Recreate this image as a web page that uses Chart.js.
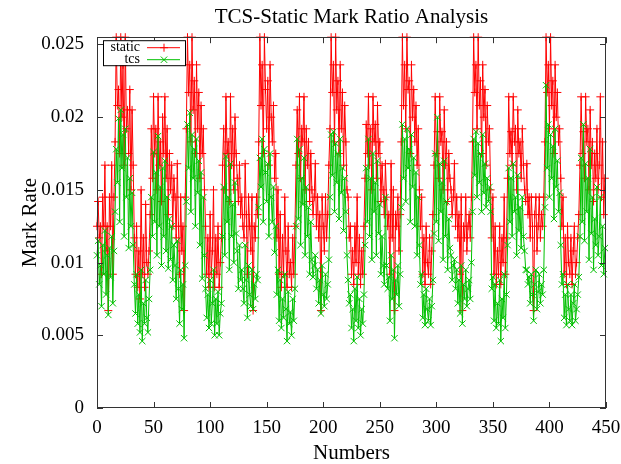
<!DOCTYPE html>
<html>
<head>
<meta charset="utf-8">
<title>TCS-Static Mark Ratio Analysis</title>
<script src="https://cdn.jsdelivr.net/npm/chart.js@4.4.0/dist/chart.umd.min.js"></script>
<style>
  html, body { margin: 0; padding: 0; background: #fff; }
</style>
</head>
<body>
<canvas id="markChart" width="621" height="464"></canvas>
<script>
// mark rate per sample (high / trough / medium / low-med)
const staticRate = [
  0.0125, 0.0142, 0.0117, 0.0125, 0.0092, 0.0145, 0.0125, 0.0167, 0.0108, 0.0125, 0.0067, 0.0145, 0.0125, 0.0167, 0.0092, 0.0145,
  0.0183, 0.0255, 0.0208, 0.0219, 0.0175, 0.0255, 0.0200, 0.0236, 0.0167, 0.0255, 0.0192, 0.0205, 0.0175, 0.0219, 0.0150, 0.0205, 0.0167,
  0.0117, 0.0092, 0.0125, 0.0083, 0.0108, 0.0075, 0.0150, 0.0092, 0.0117, 0.0083, 0.0140, 0.0100, 0.0092, 0.0108,
  0.0133, 0.0192, 0.0158, 0.0214, 0.0175, 0.0192, 0.0150, 0.0214, 0.0167, 0.0183, 0.0142, 0.0200, 0.0175, 0.0214, 0.0158, 0.0192, 0.0133, 0.0175, 0.0150, 0.0167, 0.0125, 0.0158,
  0.0145, 0.0117, 0.0168, 0.0125, 0.0092, 0.0145, 0.0108, 0.0125, 0.0067, 0.0145,
  0.0192, 0.0255, 0.0217, 0.0236, 0.0183, 0.0255, 0.0205, 0.0225, 0.0175, 0.0236, 0.0192, 0.0217, 0.0158, 0.0208, 0.0175, 0.0192, 0.0150,
  0.0125, 0.0092, 0.0117, 0.0083, 0.0133, 0.0092, 0.0108, 0.0150, 0.0083, 0.0117, 0.0092, 0.0125, 0.0083, 0.0100, 0.0117,
  0.0167, 0.0192, 0.0150, 0.0214, 0.0175, 0.0183, 0.0142, 0.0214, 0.0167, 0.0192, 0.0150, 0.0200, 0.0175, 0.0158, 0.0142, 0.0167, 0.0133,
  0.0145, 0.0125, 0.0117, 0.0168, 0.0133, 0.0092, 0.0145, 0.0125, 0.0108, 0.0145, 0.0067, 0.0125, 0.0117, 0.0145, 0.0133,
  0.0183, 0.0255, 0.0208, 0.0236, 0.0175, 0.0255, 0.0219, 0.0192, 0.0225, 0.0167, 0.0236, 0.0200, 0.0183, 0.0208, 0.0158, 0.0175,
  0.0117, 0.0150, 0.0092, 0.0133, 0.0083, 0.0117, 0.0092, 0.0145, 0.0108, 0.0083, 0.0125, 0.0092, 0.0100, 0.0083, 0.0117, 0.0092, 0.0125,
  0.0167, 0.0205, 0.0175, 0.0214, 0.0158, 0.0192, 0.0183, 0.0214, 0.0150, 0.0192, 0.0167, 0.0183, 0.0142, 0.0175, 0.0150, 0.0133,
  0.0145, 0.0168, 0.0125, 0.0145, 0.0117, 0.0133, 0.0067, 0.0145, 0.0125, 0.0108, 0.0145, 0.0117, 0.0133, 0.0167,
  0.0192, 0.0255, 0.0217, 0.0236, 0.0183, 0.0255, 0.0205, 0.0225, 0.0175, 0.0236, 0.0192, 0.0217, 0.0167, 0.0208, 0.0183, 0.0150,
  0.0145, 0.0117, 0.0125, 0.0092, 0.0108, 0.0085, 0.0125, 0.0100, 0.0145, 0.0092, 0.0117, 0.0085, 0.0108, 0.0092, 0.0125,
  0.0158, 0.0195, 0.0175, 0.0214, 0.0167, 0.0192, 0.0150, 0.0214, 0.0183, 0.0195, 0.0158, 0.0208, 0.0175, 0.0183, 0.0142, 0.0167, 0.0150, 0.0133,
  0.0168, 0.0145, 0.0125, 0.0133, 0.0092, 0.0168, 0.0117, 0.0150, 0.0067, 0.0133, 0.0125, 0.0145, 0.0108, 0.0133,
  0.0183, 0.0255, 0.0208, 0.0236, 0.0192, 0.0255, 0.0219, 0.0225, 0.0175, 0.0236, 0.0200, 0.0219, 0.0183, 0.0208, 0.0167, 0.0192, 0.0150,
  0.0125, 0.0145, 0.0092, 0.0117, 0.0085, 0.0125, 0.0100, 0.0092, 0.0117, 0.0085, 0.0108, 0.0133,
  0.0167, 0.0214, 0.0175, 0.0190, 0.0158, 0.0214, 0.0183, 0.0190, 0.0150, 0.0205, 0.0167, 0.0183, 0.0142, 0.0175, 0.0158, 0.0150, 0.0133,
  0.0145, 0.0168, 0.0125, 0.0145, 0.0117, 0.0133, 0.0092, 0.0145, 0.0067, 0.0125, 0.0117, 0.0145, 0.0108, 0.0125, 0.0133, 0.0117, 0.0145,
  0.0183, 0.0255, 0.0217, 0.0236, 0.0192, 0.0255, 0.0208, 0.0225, 0.0175, 0.0236, 0.0200, 0.0219, 0.0167, 0.0208, 0.0183, 0.0192, 0.0150,
  0.0117, 0.0145, 0.0092, 0.0125, 0.0085, 0.0108, 0.0092, 0.0125, 0.0085, 0.0117, 0.0100, 0.0145, 0.0092, 0.0117,
  0.0158, 0.0214, 0.0175, 0.0190, 0.0167, 0.0214, 0.0183, 0.0192, 0.0150, 0.0205, 0.0175, 0.0183, 0.0158, 0.0192, 0.0167, 0.0150, 0.0142,
  0.0168, 0.0133, 0.0145, 0.0117, 0.0145, 0.0125, 0.0067, 0.0133, 0.0145, 0.0108, 0.0125, 0.0145, 0.0117, 0.0133, 0.0125, 0.0145,
  0.0183, 0.0255, 0.0217, 0.0236, 0.0192, 0.0255, 0.0208, 0.0225, 0.0175, 0.0236, 0.0200, 0.0217, 0.0183, 0.0192, 0.0158,
  0.0125, 0.0145, 0.0092, 0.0117, 0.0085, 0.0125, 0.0100, 0.0092, 0.0117, 0.0085, 0.0108, 0.0125, 0.0092, 0.0100, 0.0117, 0.0133,
  0.0167, 0.0214, 0.0175, 0.0190, 0.0158, 0.0214, 0.0183, 0.0192, 0.0150, 0.0205, 0.0167, 0.0183, 0.0142, 0.0175, 0.0158, 0.0192, 0.0150,
  0.0167, 0.0214, 0.0145, 0.0183, 0.0133, 0.0158
];

const tcsRate = [
  0.0105, 0.0115, 0.0085, 0.0098, 0.0070, 0.0112, 0.0092, 0.0122, 0.0078, 0.0105, 0.0064, 0.0110, 0.0090, 0.0118, 0.0072, 0.0108,
  0.0135, 0.0178, 0.0155, 0.0199, 0.0128, 0.0205, 0.0165, 0.0188, 0.0118, 0.0192, 0.0145, 0.0172, 0.0110, 0.0158, 0.0125, 0.0148, 0.0112,
  0.0085, 0.0065, 0.0092, 0.0058, 0.0078, 0.0052, 0.0095, 0.0046, 0.0072, 0.0058, 0.0088, 0.0062, 0.0052, 0.0075,
  0.0095, 0.0145, 0.0118, 0.0176, 0.0128, 0.0162, 0.0105, 0.0187, 0.0125, 0.0152, 0.0098, 0.0165, 0.0118, 0.0170, 0.0108, 0.0145, 0.0096, 0.0130, 0.0102, 0.0125, 0.0088, 0.0112,
  0.0098, 0.0075, 0.0115, 0.0082, 0.0058, 0.0095, 0.0068, 0.0085, 0.0048, 0.0098,
  0.0142, 0.0195, 0.0165, 0.0203, 0.0135, 0.0188, 0.0158, 0.0178, 0.0125, 0.0185, 0.0148, 0.0170, 0.0112, 0.0162, 0.0089, 0.0145, 0.0105,
  0.0082, 0.0062, 0.0078, 0.0055, 0.0088, 0.0058, 0.0072, 0.0095, 0.0050, 0.0075, 0.0058, 0.0080, 0.0050, 0.0065, 0.0072,
  0.0118, 0.0152, 0.0105, 0.0173, 0.0128, 0.0145, 0.0095, 0.0168, 0.0118, 0.0140, 0.0100, 0.0155, 0.0120, 0.0108, 0.0082, 0.0112, 0.0088,
  0.0095, 0.0082, 0.0072, 0.0112, 0.0088, 0.0062, 0.0098, 0.0078, 0.0070, 0.0095, 0.0068, 0.0085, 0.0075, 0.0092, 0.0088,
  0.0138, 0.0172, 0.0152, 0.0185, 0.0128, 0.0178, 0.0162, 0.0142, 0.0168, 0.0118, 0.0175, 0.0145, 0.0128, 0.0152, 0.0107, 0.0125,
  0.0078, 0.0095, 0.0060, 0.0088, 0.0055, 0.0075, 0.0062, 0.0092, 0.0068, 0.0046, 0.0080, 0.0058, 0.0066, 0.0050, 0.0075, 0.0060, 0.0082,
  0.0125, 0.0185, 0.0130, 0.0178, 0.0112, 0.0158, 0.0140, 0.0172, 0.0105, 0.0152, 0.0118, 0.0138, 0.0092, 0.0128, 0.0102, 0.0090,
  0.0098, 0.0105, 0.0082, 0.0095, 0.0072, 0.0088, 0.0065, 0.0098, 0.0078, 0.0070, 0.0092, 0.0075, 0.0085, 0.0102,
  0.0145, 0.0188, 0.0160, 0.0190, 0.0135, 0.0182, 0.0155, 0.0175, 0.0130, 0.0185, 0.0148, 0.0165, 0.0122, 0.0158, 0.0135, 0.0105,
  0.0088, 0.0072, 0.0078, 0.0055, 0.0068, 0.0046, 0.0082, 0.0060, 0.0090, 0.0055, 0.0075, 0.0050, 0.0068, 0.0058, 0.0078,
  0.0112, 0.0165, 0.0128, 0.0185, 0.0118, 0.0158, 0.0102, 0.0175, 0.0135, 0.0155, 0.0105, 0.0170, 0.0120, 0.0140, 0.0092, 0.0118, 0.0098, 0.0085,
  0.0145, 0.0098, 0.0082, 0.0090, 0.0060, 0.0105, 0.0075, 0.0095, 0.0048, 0.0088, 0.0078, 0.0098, 0.0070, 0.0092,
  0.0138, 0.0195, 0.0158, 0.0185, 0.0142, 0.0192, 0.0165, 0.0178, 0.0128, 0.0188, 0.0152, 0.0172, 0.0125, 0.0162, 0.0105, 0.0145, 0.0112,
  0.0085, 0.0092, 0.0062, 0.0078, 0.0057, 0.0082, 0.0068, 0.0060, 0.0075, 0.0057, 0.0070, 0.0088,
  0.0120, 0.0175, 0.0128, 0.0200, 0.0115, 0.0168, 0.0135, 0.0155, 0.0102, 0.0170, 0.0118, 0.0142, 0.0095, 0.0130, 0.0110, 0.0105, 0.0088,
  0.0098, 0.0102, 0.0082, 0.0095, 0.0072, 0.0088, 0.0065, 0.0098, 0.0058, 0.0085, 0.0075, 0.0095, 0.0070, 0.0082, 0.0088, 0.0075, 0.0100,
  0.0135, 0.0185, 0.0160, 0.0190, 0.0145, 0.0182, 0.0155, 0.0175, 0.0135, 0.0188, 0.0148, 0.0168, 0.0138, 0.0158, 0.0142, 0.0152, 0.0135,
  0.0082, 0.0090, 0.0060, 0.0085, 0.0055, 0.0072, 0.0058, 0.0088, 0.0046, 0.0075, 0.0062, 0.0092, 0.0055, 0.0078,
  0.0112, 0.0165, 0.0128, 0.0158, 0.0118, 0.0168, 0.0135, 0.0145, 0.0105, 0.0160, 0.0122, 0.0138, 0.0110, 0.0145, 0.0118, 0.0108, 0.0095,
  0.0095, 0.0085, 0.0090, 0.0072, 0.0092, 0.0078, 0.0060, 0.0085, 0.0095, 0.0068, 0.0080, 0.0092, 0.0072, 0.0085, 0.0078, 0.0095,
  0.0138, 0.0222, 0.0165, 0.0195, 0.0145, 0.0188, 0.0158, 0.0180, 0.0130, 0.0192, 0.0152, 0.0170, 0.0135, 0.0148, 0.0112,
  0.0085, 0.0092, 0.0062, 0.0078, 0.0057, 0.0085, 0.0068, 0.0060, 0.0078, 0.0057, 0.0072, 0.0085, 0.0060, 0.0068, 0.0078, 0.0090,
  0.0118, 0.0172, 0.0128, 0.0195, 0.0115, 0.0168, 0.0135, 0.0158, 0.0102, 0.0178, 0.0120, 0.0145, 0.0095, 0.0130, 0.0112, 0.0152, 0.0105,
  0.0118, 0.0145, 0.0098, 0.0125, 0.0092, 0.0110
];

const xTicks = [0, 50, 100, 150, 200, 250, 300, 350, 400, 450];
const yTicks = [0, 0.005, 0.01, 0.015, 0.02, 0.025];

const seriesNames = ['static', 'tcs'];
const seriesColors = ['#ff0000', '#00c000'];
const seriesMarks = ['cross', 'crossRot'];

const serif = "'Liberation Serif', 'Times New Roman', serif";

function toPoints(values) {
  return values.map((v, i) => ({ x: i, y: v }));
}

// gnuplot-ish frame: box, inward ticks on all 4 sides, opaque key top-left
const framePlugin = {
  id: 'frame',
  afterDraw(chart) {
    const { ctx, chartArea: a, scales: { x, y } } = chart;
    ctx.save();
    ctx.strokeStyle = '#333';
    ctx.lineWidth = 1;
    ctx.strokeRect(Math.round(a.left) + 0.5, Math.round(a.top) + 0.5,
      Math.round(a.width) - 1, Math.round(a.height) - 1);

    ctx.beginPath();
    x.ticks.forEach(t => {
      const px = Math.round(x.getPixelForValue(t.value)) + 0.5;
      ctx.moveTo(px, a.bottom); ctx.lineTo(px, a.bottom - 6);
      ctx.moveTo(px, a.top); ctx.lineTo(px, a.top + 6);
    });
    y.ticks.forEach(t => {
      const py = Math.round(y.getPixelForValue(t.value)) + 0.5;
      ctx.moveTo(a.left, py); ctx.lineTo(a.left + 6, py);
      ctx.moveTo(a.right, py); ctx.lineTo(a.right - 6, py);
    });
    ctx.stroke();

    // key
    const kx = a.left + 6, ky = a.top + 3;
    ctx.fillStyle = '#fff';
    ctx.fillRect(kx, ky, 82, 25);
    ctx.strokeStyle = '#000';
    ctx.strokeRect(kx + 0.5, ky + 0.5, 82, 25);
    ctx.font = '14px ' + serif;
    ctx.textAlign = 'right';
    ctx.textBaseline = 'middle';
    seriesNames.forEach((name, i) => {
      const ly = ky + 7 + i * 12;
      ctx.fillStyle = '#000';
      ctx.fillText(name, kx + 37, ly);
      ctx.strokeStyle = seriesColors[i];
      ctx.beginPath();
      ctx.moveTo(kx + 44, ly + 0.5);
      ctx.lineTo(kx + 77, ly + 0.5);
      ctx.stroke();
      Chart.helpers.drawPoint(ctx, {
        pointStyle: seriesMarks[i], radius: i === 0 ? 4 : 4.5, borderWidth: 1
      }, kx + 61, ly + 0.5);
    });
    ctx.restore();
  }
};

const chart = new Chart(document.getElementById('markChart'), {
  type: 'line',
  data: {
    datasets: [
      {
        label: seriesNames[0],
        data: toPoints(staticRate),
        borderColor: seriesColors[0],
        backgroundColor: seriesColors[0],
        borderWidth: 1,
        pointStyle: seriesMarks[0],
        pointRadius: 4,
        pointBorderWidth: 1,
        clip: false,
        order: 1
      },
      {
        label: seriesNames[1],
        data: toPoints(tcsRate),
        borderColor: seriesColors[1],
        backgroundColor: seriesColors[1],
        borderWidth: 1,
        pointStyle: seriesMarks[1],
        pointRadius: 4.5,
        pointBorderWidth: 1,
        clip: false,
        order: 0
      }
    ]
  },
  options: {
    responsive: false,
    animation: false,
    devicePixelRatio: 1,
    layout: { padding: { left: 0, right: 15, top: 0, bottom: 0 } },
    plugins: {
      legend: { display: false },
      tooltip: { enabled: false },
      title: {
        display: true,
        fullSize: false,
        text: 'TCS-Static Mark Ratio Analysis',
        color: '#000',
        font: { family: serif, size: 21, weight: 'normal', lineHeight: 1.2 },
        padding: { top: 5, bottom: 7 }
      }
    },
    scales: {
      x: {
        type: 'linear',
        min: 0,
        max: 450,
        grid: { display: false, drawTicks: false },
        border: { display: false },
        afterBuildTicks: s => { s.ticks = xTicks.map(v => ({ value: v })); },
        afterFit: s => { s.height = 56; s.paddingLeft = 0; s.paddingRight = 0; },
        ticks: {
          color: '#000',
          padding: 9,
          maxRotation: 0,
          font: { family: serif, size: 19 },
          callback: v => String(v)
        },
        title: {
          display: true,
          text: 'Numbers',
          color: '#000',
          font: { family: serif, size: 21, lineHeight: 1 },
          padding: { top: 0, bottom: 0 }
        }
      },
      y: {
        min: 0,
        max: 0.0255,
        grid: { display: false, drawTicks: false },
        border: { display: false },
        afterBuildTicks: s => { s.ticks = yTicks.map(v => ({ value: v })); },
        afterFit: s => { s.width = 97; },
        ticks: {
          color: '#000',
          padding: 13,
          font: { family: serif, size: 19 },
          callback: v => String(v)
        },
        title: {
          display: true,
          text: 'Mark Rate',
          color: '#000',
          font: { family: serif, size: 21, lineHeight: 1 },
          padding: { top: 20, bottom: 0 }
        }
      }
    }
  },
  plugins: [framePlugin]
});
</script>
</body>
</html>
